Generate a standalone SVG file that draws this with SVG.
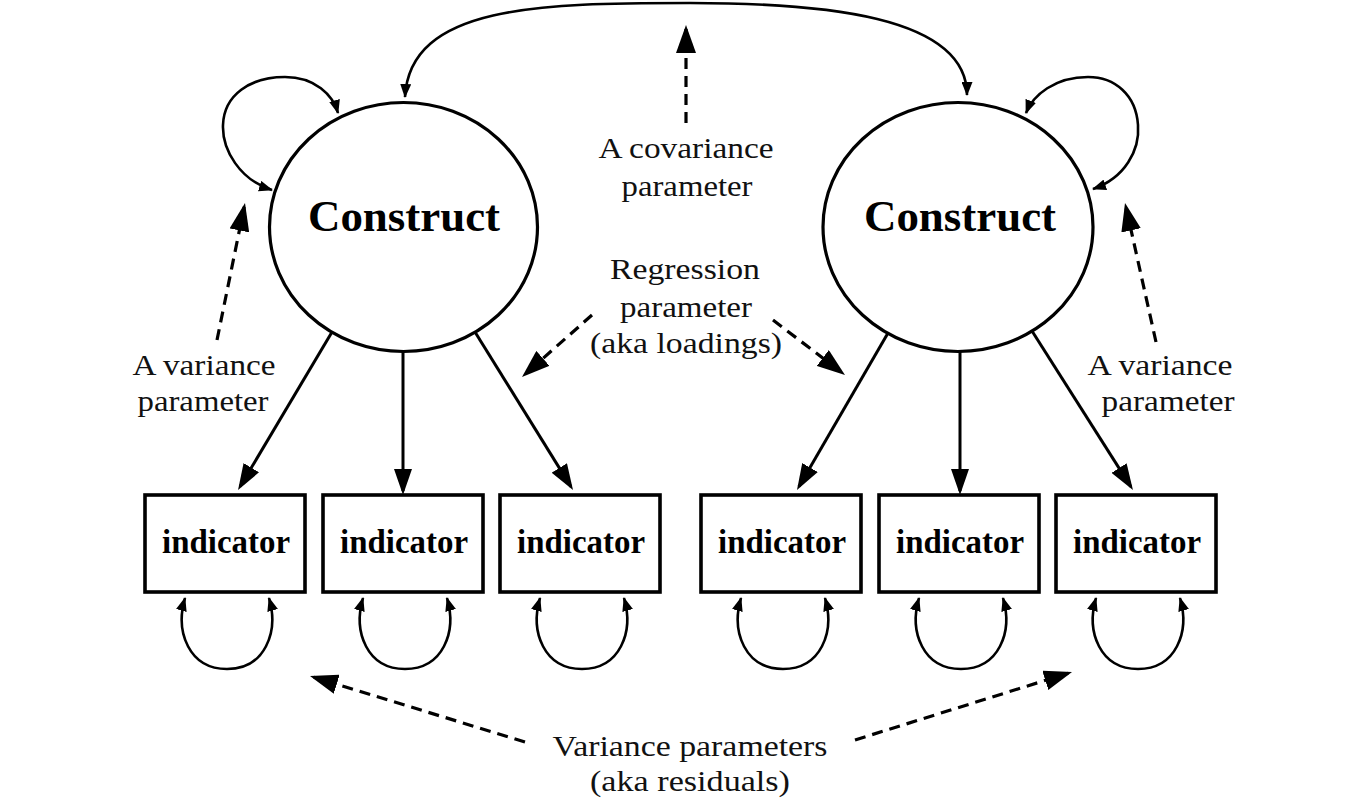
<svg xmlns="http://www.w3.org/2000/svg" width="1368" height="801" viewBox="0 0 1368 801">
<style>
.node{fill:#fff;stroke:#000;stroke-width:3.2}
.box{fill:#fff;stroke:#000;stroke-width:3.6}
.cons{font-family:"Times New Roman",Times,"Liberation Serif",serif;font-weight:bold;font-size:44px;text-anchor:middle;fill:#000}
.ind{font-family:"Times New Roman",Times,"Liberation Serif",serif;font-weight:bold;font-size:33px;text-anchor:middle;fill:#000}
.lbl{font-family:"Times New Roman",Times,"Liberation Serif",serif;font-size:30px;text-anchor:middle;fill:#111}
.solid{fill:none;stroke:#000;stroke-width:3}
.curve{fill:none;stroke:#000;stroke-width:2.6}
.dash{fill:none;stroke:#000;stroke-width:3.2;stroke-dasharray:11 7}
</style>
<defs>
<marker id="big" markerUnits="userSpaceOnUse" markerWidth="26" markerHeight="18" viewBox="0 0 26 18" refX="22" refY="9" orient="auto"><path d="M0,0 L26,9 L0,18 Z" fill="#000"/></marker>
<marker id="dh" markerUnits="userSpaceOnUse" markerWidth="28" markerHeight="20" viewBox="0 0 28 20" refX="24" refY="10" orient="auto"><path d="M0,0 L28,10 L0,20 Z" fill="#000"/></marker>
<marker id="sm" markerUnits="userSpaceOnUse" markerWidth="14" markerHeight="11" viewBox="0 0 14 11" refX="13" refY="5.5" orient="auto-start-reverse"><path d="M0,0 L14,5.5 L0,11 Z" fill="#000"/></marker>
</defs>
<rect width="1368" height="801" fill="#fff"/>
<g id="connectors">
<path class="curve" d="M405,97 C410,5 540,3 690,3 C820,3 967,15 967,95" marker-start="url(#sm)" marker-end="url(#sm)"/>
<path class="curve" d="M272,190 C240,180 222,150 223,125 C224,95 250,77 285,77 C315,77 333,95 338,113" marker-start="url(#sm)" marker-end="url(#sm)"/>
<path class="curve" d="M1093,189 C1125,178 1140,150 1138,125 C1136,95 1115,77 1088,77 C1055,77 1033,95 1026,113" marker-start="url(#sm)" marker-end="url(#sm)"/>
<line class="solid" x1="332" y1="332" x2="240.1" y2="486.6" marker-end="url(#big)"/>
<line class="solid" x1="403" y1="351" x2="403" y2="491" marker-end="url(#big)"/>
<line class="solid" x1="475" y1="332" x2="570.9" y2="486.6" marker-end="url(#big)"/>
<line class="solid" x1="888" y1="333" x2="799" y2="486.6" marker-end="url(#big)"/>
<line class="solid" x1="960" y1="351" x2="960" y2="491" marker-end="url(#big)"/>
<line class="solid" x1="1032" y1="331" x2="1130.8" y2="486.6" marker-end="url(#big)"/>
<path class="curve" d="M185,598 C175,632 189,669 227,669 C265,669 279,632 269,598" marker-start="url(#sm)" marker-end="url(#sm)"/>
<path class="curve" d="M363,598 C353,632 367,669 405,669 C443,669 457,632 447,598" marker-start="url(#sm)" marker-end="url(#sm)"/>
<path class="curve" d="M540,598 C530,632 544,669 582,669 C620,669 634,632 624,598" marker-start="url(#sm)" marker-end="url(#sm)"/>
<path class="curve" d="M741,598 C731,632 745,669 783,669 C821,669 835,632 825,598" marker-start="url(#sm)" marker-end="url(#sm)"/>
<path class="curve" d="M919,598 C909,632 923,669 961,669 C999,669 1013,632 1003,598" marker-start="url(#sm)" marker-end="url(#sm)"/>
<path class="curve" d="M1096,598 C1086,632 1100,669 1138,669 C1176,669 1190,632 1180,598" marker-start="url(#sm)" marker-end="url(#sm)"/>
<line class="dash" x1="686" y1="123" x2="686" y2="29" marker-end="url(#dh)"/>
<line class="dash" x1="217" y1="340" x2="244.2" y2="206.9" marker-end="url(#dh)"/>
<line class="dash" x1="1156" y1="342" x2="1125.9" y2="206.9" marker-end="url(#dh)"/>
<line class="dash" x1="592" y1="315" x2="525" y2="374.3" marker-end="url(#dh)"/>
<line class="dash" x1="773" y1="320" x2="841.8" y2="372.6" marker-end="url(#dh)"/>
<line class="dash" x1="525" y1="742" x2="313.8" y2="677.2" marker-end="url(#dh)"/>
<line class="dash" x1="855" y1="740" x2="1068.2" y2="673.2" marker-end="url(#dh)"/>
</g>
<g id="construct1"><ellipse class="node" cx="403.5" cy="227" rx="134" ry="124.5"/><text class="cons" x="404" y="231" textLength="192" lengthAdjust="spacingAndGlyphs">Construct</text></g>
<g id="construct2"><ellipse class="node" cx="958" cy="227" rx="135" ry="124.5"/><text class="cons" x="960" y="231" textLength="192" lengthAdjust="spacingAndGlyphs">Construct</text></g>
<g id="indicator1"><rect class="box" x="145" y="495" width="160" height="97"/><text class="ind" x="226" y="553" textLength="128" lengthAdjust="spacingAndGlyphs">indicator</text></g>
<g id="indicator2"><rect class="box" x="323" y="495" width="160" height="97"/><text class="ind" x="404" y="553" textLength="128" lengthAdjust="spacingAndGlyphs">indicator</text></g>
<g id="indicator3"><rect class="box" x="500" y="495" width="160" height="97"/><text class="ind" x="581" y="553" textLength="128" lengthAdjust="spacingAndGlyphs">indicator</text></g>
<g id="indicator4"><rect class="box" x="701" y="495" width="160" height="97"/><text class="ind" x="782" y="553" textLength="128" lengthAdjust="spacingAndGlyphs">indicator</text></g>
<g id="indicator5"><rect class="box" x="879" y="495" width="160" height="97"/><text class="ind" x="960" y="553" textLength="128" lengthAdjust="spacingAndGlyphs">indicator</text></g>
<g id="indicator6"><rect class="box" x="1056" y="495" width="160" height="97"/><text class="ind" x="1137" y="553" textLength="128" lengthAdjust="spacingAndGlyphs">indicator</text></g>
<g id="labels">
<text class="lbl" x="686" y="158" textLength="175" lengthAdjust="spacingAndGlyphs">A covariance</text>
<text class="lbl" x="687" y="196" textLength="131" lengthAdjust="spacingAndGlyphs">parameter</text>
<text class="lbl" x="685" y="279" textLength="150" lengthAdjust="spacingAndGlyphs">Regression</text>
<text class="lbl" x="686" y="317" textLength="132" lengthAdjust="spacingAndGlyphs">parameter</text>
<text class="lbl" x="686" y="353" textLength="192" lengthAdjust="spacingAndGlyphs">(aka loadings)</text>
<text class="lbl" x="204" y="375" textLength="143" lengthAdjust="spacingAndGlyphs">A variance</text>
<text class="lbl" x="203" y="411" textLength="131" lengthAdjust="spacingAndGlyphs">parameter</text>
<text class="lbl" x="1160" y="375" textLength="145" lengthAdjust="spacingAndGlyphs">A variance</text>
<text class="lbl" x="1168" y="411" textLength="133" lengthAdjust="spacingAndGlyphs">parameter</text>
<text class="lbl" x="690" y="756" textLength="275" lengthAdjust="spacingAndGlyphs">Variance parameters</text>
<text class="lbl" x="690" y="791" textLength="200" lengthAdjust="spacingAndGlyphs">(aka residuals)</text>
</g>
</svg>
